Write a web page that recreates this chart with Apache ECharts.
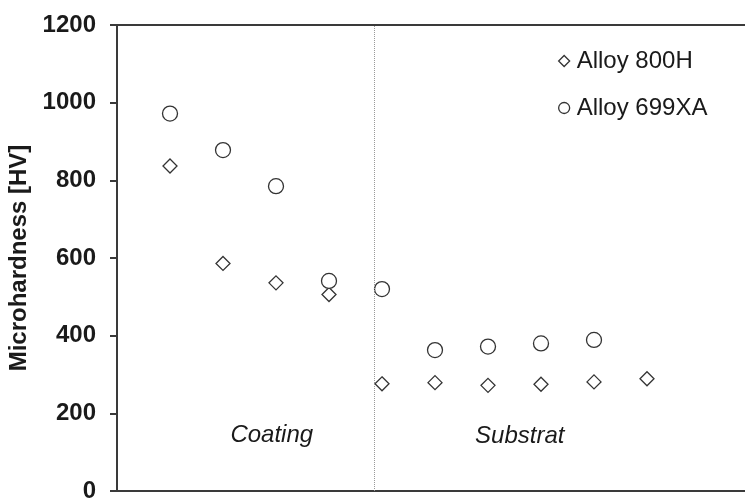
<!DOCTYPE html>
<html>
<head>
<meta charset="utf-8">
<script src="https://cdn.jsdelivr.net/npm/echarts@6/dist/echarts.min.js"></script>
<style>
html,body{margin:0;padding:0;background:#fff;}
#chart{width:745px;height:498px;}
</style>
</head>
<body>
<div id="chart"></div>
<script>
// Data
const positions800H = [1, 2, 3, 4, 5, 6, 7, 8, 9, 10];
const values800H = [837, 586, 536, 506, 276, 279, 272, 275, 281, 289];
const positions699XA = [1, 2, 3, 4, 5, 6, 7, 8, 9];
const values699XA = [972, 878, 785, 541, 520, 363, 372, 380, 389];
const seriesNames = ['Alloy 800H', 'Alloy 699XA'];
const yTicks = [0, 200, 400, 600, 800, 1000, 1200];
const boundaryPosition = [4.85];
const regionLabels = ['Coating', 'Substrat'];
const yAxisTitle = 'Microhardness [HV]';

const FONT = '"Liberation Sans", Arial, sans-serif';
const stroke = '#333';

const chart = echarts.init(document.getElementById('chart'), null, {renderer: 'canvas'});

const option = {
  animation: false,
  backgroundColor: '#fff',
  grid: {left: 117, top: 25, width: 636, bottom: 7, containLabel: false, outerBoundsMode: 'none'},
  legend: {
    orient: 'vertical',
    left: 558,
    top: 49,
    padding: 0,
    itemGap: 23,
    itemWidth: 11,
    itemHeight: 11,
    selectedMode: false,
    textStyle: {fontFamily: FONT, fontSize: 24, color: '#1a1a1a', lineHeight: 24, padding: [0, 0, 0, 2]},
    data: [
      {name: seriesNames[0], icon: 'diamond', itemStyle: {color: '#fff', borderColor: stroke, borderWidth: 1.3}},
      {name: seriesNames[1], icon: 'circle', itemStyle: {color: '#fff', borderColor: stroke, borderWidth: 1.3}}
    ]
  },
  xAxis: [
    {
      type: 'value', min: 0, max: 12,
      axisLine: {show: true, onZero: false, lineStyle: {color: '#3a3a3a', width: 2}},
      axisTick: {show: false}, axisLabel: {show: false}, splitLine: {show: false}
    },
    {
      type: 'value', min: 0, max: 12, position: 'top',
      axisLine: {show: true, onZero: false, lineStyle: {color: '#3a3a3a', width: 2}},
      axisTick: {show: false}, axisLabel: {show: false}, splitLine: {show: false}
    }
  ],
  yAxis: {
    type: 'value', min: yTicks[0], max: yTicks[yTicks.length - 1], interval: 200,
    name: yAxisTitle,
    nameLocation: 'middle',
    nameGap: 76,
    nameRotate: 90,
    nameTextStyle: {fontFamily: FONT, fontSize: 24, fontWeight: 'bold', color: '#1a1a1a'},
    axisLine: {show: true, lineStyle: {color: '#3a3a3a', width: 2}},
    axisTick: {show: true, inside: false, length: 7, lineStyle: {color: '#3a3a3a', width: 2}},
    axisLabel: {fontFamily: FONT, fontSize: 24, fontWeight: 'bold', color: '#1a1a1a', margin: 21, formatter: v => String(v)},
    splitLine: {show: false}
  },
  series: [
    {
      name: seriesNames[0],
      type: 'scatter',
      symbol: 'diamond',
      symbolSize: 14,
      itemStyle: {color: '#fff', borderColor: stroke, borderWidth: 1.3, opacity: 1},
      data: positions800H.map((x, i) => [x, values800H[i]]),
      z: 3,
      markLine: {
        silent: true,
        symbol: ['none', 'none'],
        label: {show: false},
        lineStyle: {type: 'dotted', color: '#999', width: 1},
        data: [{xAxis: boundaryPosition[0]}]
      },
      markPoint: {
        silent: true,
        symbol: 'circle',
        symbolSize: 0,
        label: {show: true, position: 'inside', fontFamily: FONT, fontSize: 24, fontStyle: 'italic', color: '#1a1a1a', formatter: p => p.name},
        data: [
          {name: regionLabels[0], coord: [2.92, 144]},
          {name: regionLabels[1], coord: [7.6, 142]}
        ]
      }
    },
    {
      name: seriesNames[1],
      type: 'scatter',
      symbol: 'circle',
      symbolSize: 15,
      itemStyle: {color: '#fff', borderColor: stroke, borderWidth: 1.3, opacity: 1},
      data: positions699XA.map((x, i) => [x, values699XA[i]]),
      z: 3
    }
  ]
};
chart.setOption(option);
</script>
</body>
</html>
